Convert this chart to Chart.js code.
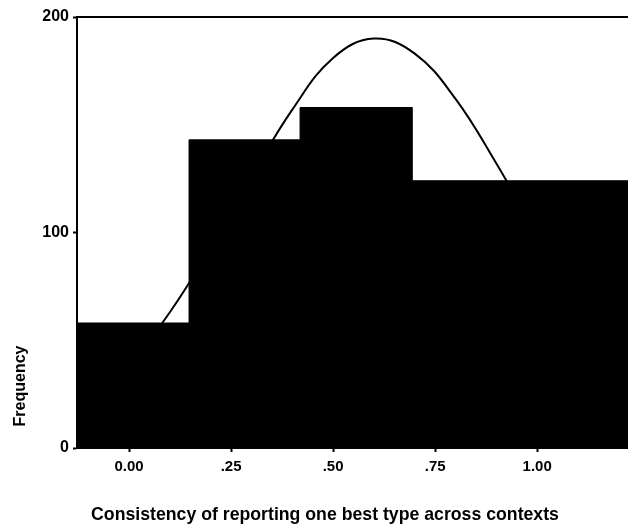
<!DOCTYPE html>
<html><head><meta charset="utf-8">
<script src="https://cdn.jsdelivr.net/npm/chart.js@4.4.0/dist/chart.umd.min.js"></script>
<style>html,body{margin:0;padding:0;background:#fff}#wrap{width:628px;height:528px}</style>
</head><body><div id="wrap"><canvas id="c" width="628" height="528"></canvas></div>
<script>
// Histogram bins: left/right edges (data units) and frequencies
const binEdges = [-0.1275, 0.147, 0.419, 0.694, 0.958, 1.2225];
const frequencies = [58, 143, 158, 124, 124];
// Fitted normal curve
const curveX = [-0.1, 0, 0.1, 0.2, 0.3, 0.4, 0.5, 0.6, 0.7, 0.8, 0.9, 1.0, 1.1, 1.2];
const curveY = [22, 39, 63, 93, 126, 157, 181, 190, 183, 162, 132, 99, 68, 43];
// Tick values / labels
const xTickValues = [0, 0.25, 0.5, 0.75, 1.0];
const xTickLabels = ['0.00', '.25', '.50', '.75', '1.00'];
const yTickValues = [0, 100, 200];
const xTitle = 'Consistency of reporting one best type across contexts';
const yTitle = 'Frequency';

const FONT = 'Liberation Sans, Arial, Helvetica, sans-serif';

// histogram as a stepped, filled outline through the bin edges
const histPoints = binEdges.map((x, i) => ({x, y: frequencies[Math.min(i, frequencies.length - 1)]}));

const decor = {
  id: 'decor',
  afterDraw(chart) {
    const {ctx, chartArea: a} = chart;
    ctx.save();
    ctx.strokeStyle = '#000';
    ctx.lineWidth = 2;
    ctx.beginPath();
    ctx.moveTo(a.left - 1, a.top);
    ctx.lineTo(chart.width, a.top);
    ctx.stroke();
    ctx.fillStyle = '#000';
    ctx.font = 'bold 17.7px ' + FONT;
    ctx.textAlign = 'center';
    ctx.textBaseline = 'alphabetic';
    ctx.fillText(xTitle, 325, 520);
    ctx.translate(25, 386);
    ctx.rotate(-Math.PI / 2);
    ctx.font = 'bold 16px ' + FONT;
    ctx.fillText(yTitle, 0, 0);
    ctx.restore();
  }
};

new Chart(document.getElementById('c'), {
  type: 'line',
  data: {
    datasets: [
      {
        data: curveX.map((x, i) => ({x, y: curveY[i]})),
        borderColor: '#000',
        borderWidth: 2,
        pointRadius: 0,
        tension: 0.4,
        fill: false,
        order: 0
      },
      {
        data: histPoints,
        stepped: 'before',
        borderColor: '#000',
        borderWidth: 1,
        backgroundColor: '#000',
        pointRadius: 0,
        fill: 'origin',
        order: 1
      }
    ]
  },
  options: {
    responsive: false,
    animation: false,
    devicePixelRatio: 1,
    layout: {padding: {top: 17, right: 0, left: 0, bottom: 0}},
    plugins: {legend: {display: false}, tooltip: {enabled: false}},
    scales: {
      x: {
        type: 'linear',
        min: binEdges[0], max: binEdges[binEdges.length - 1],
        offset: false,
        afterFit(s) { s.height = 80; },
        afterBuildTicks(s) { s.ticks = xTickValues.map(v => ({value: v})); },
        ticks: {
          color: '#000',
          font: {family: FONT, size: 15, weight: 'bold'},
          padding: 6,
          maxRotation: 0,
          autoSkip: false,
          callback: (v) => { const i = xTickValues.indexOf(v); return i >= 0 ? xTickLabels[i] : ''; }
        },
        grid: {display: true, drawOnChartArea: false, drawTicks: true, tickLength: 4, tickColor: '#000', tickWidth: 2},
        border: {display: true, color: '#000', width: 2, z: 1}
      },
      y: {
        min: 0, max: 200,
        afterFit(s) { s.width = 77; },
        afterBuildTicks(s) { s.ticks = yTickValues.map(v => ({value: v})); },
        ticks: {
          color: '#000',
          font: {family: FONT, size: 16, weight: 'bold'},
          padding: 4
        },
        grid: {display: true, drawOnChartArea: false, drawTicks: true, tickLength: 4, tickColor: '#000', tickWidth: 2},
        border: {display: true, color: '#000', width: 2, z: 1}
      }
    }
  },
  plugins: [decor]
});
</script></body></html>
